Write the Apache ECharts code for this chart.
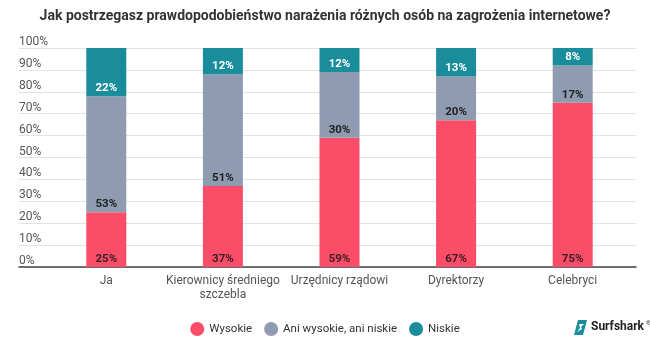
<!DOCTYPE html>
<html><head><meta charset="utf-8">
<script src="https://cdn.jsdelivr.net/npm/echarts@6/dist/echarts.min.js"></script>
<style>html,body{margin:0;padding:0;background:#fff}#c{width:650px;height:346px}</style>
</head><body><div id="c"></div>
<script>
const titleText = 'Jak postrzegasz prawdopodobieństwo narażenia różnych osób na zagrożenia internetowe?';
const categories = ['Ja', 'Kierownicy średniego\nszczebla', 'Urzędnicy rządowi', 'Dyrektorzy', 'Celebryci'];
const seriesNames = ['Wysokie', 'Ani wysokie, ani niskie', 'Niskie'];
const wysokie = [25, 37, 59, 67, 75];
const ani = [53, 51, 30, 20, 17];
const niskie = [22, 12, 12, 13, 8];
const yTicks = [0, 10, 20, 30, 40, 50, 60, 70, 80, 90, 100];

const colors = ['#fb4d68', '#8e9bb1', '#1a8d9c'];
const labelColors = ['#3a1e24', '#222222', '#ffffff'];
const FONT = 'Roboto, "Noto Sans", sans-serif';

const chart = echarts.init(document.getElementById('c'), null, {renderer: 'canvas'});
const data = [wysokie, ani, niskie];

chart.setOption({
  animation: false,
  textStyle: {fontFamily: FONT},
  title: {
    text: titleText, left: 'center', top: 4,
    textStyle: {fontFamily: FONT, fontSize: 14, fontWeight: 'bold', color: '#333'}
  },
  legend: {
    data: seriesNames, bottom: 5, left: 'center', icon: 'circle',
    itemWidth: 14, itemHeight: 14, itemGap: 12,
    textStyle: {fontFamily: FONT, fontSize: 11.5, color: '#333'}
  },
  grid: [
    {left: 48, right: 19, top: 48, bottom: 79},
    {left: 19, right: 14, top: 48, bottom: 79}
  ],
  xAxis: [
    {type: 'category', gridIndex: 0, data: categories,
     axisLine: {show: false}, axisTick: {show: false},
     axisLabel: {fontFamily: FONT, fontSize: 12, color: '#555', margin: 7, lineHeight: 14, interval: 0}},
    {type: 'value', gridIndex: 1, min: 0, max: 1, show: true,
     axisLine: {show: true, onZero: false, lineStyle: {color: '#444', width: 1.5}},
     axisTick: {show: false}, axisLabel: {show: false}, splitLine: {show: false}}
  ],
  yAxis: [
    {type: 'value', gridIndex: 0, min: 0, max: 100, interval: 10, show: false},
    {type: 'value', gridIndex: 1, min: 0, max: 100, interval: 10,
     axisLine: {show: false}, axisTick: {show: false},
     splitLine: {lineStyle: {color: '#e2e2e2'}},
     axisLabel: {inside: true, margin: 0, verticalAlign: 'bottom', padding: [0, 0, 0, 0],
       fontFamily: FONT, fontSize: 12, color: '#555',
       formatter: v => yTicks.includes(v) ? v + '%' : ''}}
  ],
  series: seriesNames.map((name, i) => ({
    name, type: 'bar', stack: 'total', xAxisIndex: 0, yAxisIndex: 0,
    barWidth: 40, data: data[i],
    itemStyle: {color: colors[i]},
    label: {show: true, position: 'insideBottom', distance: 2,
      formatter: p => p.value + '%',
      fontFamily: FONT, fontSize: 11.5, fontWeight: 'bold', color: labelColors[i]}
  })),
  graphic: [
    {type: 'group', left: 574, top: 320, children: [
      {type: 'polygon', shape: {points: [[4, 0], [13, 0], [9, 15], [0, 15]]},
       style: {fill: '#1a8d9c'}},
      {type: 'polygon', shape: {points: [[5, 4], [10, 4], [7, 7], [8, 9], [3, 12], [6, 8]]}, style: {fill: '#fff'}},
      {type: 'text', x: 17, y: 1, style: {text: 'Surfshark', font: 'bold 12px ' + FONT, fill: '#222'}},
      {type: 'text', x: 72, y: 0, style: {text: '®', font: '6px ' + FONT, fill: '#222'}}
    ]}
  ]
});
</script></body></html>
